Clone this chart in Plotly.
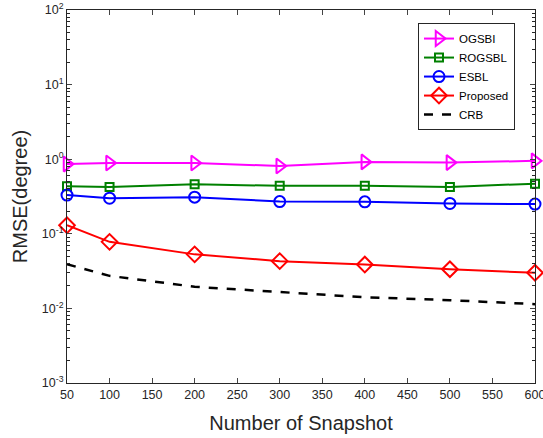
import plotly.graph_objects as go

snapshots = [50, 100, 200, 300, 400, 500, 600]
ogsbi = [0.86, 0.89, 0.89, 0.81, 0.92, 0.90, 0.95]
rogsbl = [0.435, 0.425, 0.46, 0.44, 0.44, 0.425, 0.47]
esbl = [0.33, 0.30, 0.31, 0.27, 0.268, 0.255, 0.25]
proposed = [0.13, 0.078, 0.053, 0.043, 0.0387, 0.0335, 0.030]
crb = [0.039, 0.0273, 0.0195, 0.0166, 0.0141, 0.0129, 0.0114]

xticks = [50, 100, 150, 200, 250, 300, 350, 400, 450, 500, 550, 600]
yticks = [1e-3, 1e-2, 1e-1, 1e0, 1e1, 1e2]
ytext = ["10<sup>-3</sup>", "10<sup>-2</sup>", "10<sup>-1</sup>", "10<sup>0</sup>", "10<sup>1</sup>", "10<sup>2</sup>"]
yminor = [m * 10.0 ** e for e in range(-3, 2) for m in range(2, 10)]

fig = go.Figure()
series = [
    ("OGSBI", ogsbi, "#FF00FF", "triangle-right-open", 13, "solid"),
    ("ROGSBL", rogsbl, "#008000", "square-open", 8, "solid"),
    ("ESBL", esbl, "#0000FF", "circle-open", 11, "solid"),
    ("Proposed", proposed, "#FF0000", "diamond-open", 12, "solid"),
]
for name, ys, col, sym, sz, dash in series:
    fig.add_trace(go.Scatter(x=snapshots, y=ys, name=name, mode="lines+markers",
                             line=dict(color=col, width=2),
                             marker=dict(symbol=sym, size=sz, color=col, line=dict(width=2, color=col)),
                             cliponaxis=False))
fig.add_trace(go.Scatter(x=snapshots, y=crb, name="CRB", mode="lines",
                         line=dict(color="black", width=2.5, dash="dash")))

axcol = "#262626"
fig.update_layout(
    width=543, height=438,
    margin=dict(l=67, r=8, t=10, b=55),
    paper_bgcolor="white", plot_bgcolor="white",
    font=dict(family="Liberation Sans, Arial", color=axcol),
    showlegend=True,
    legend=dict(x=0.75, y=0.965, xanchor="left", yanchor="top",
                bgcolor="white", bordercolor=axcol, borderwidth=1,
                font=dict(size=11.5, color="black"), tracegroupgap=0,
                itemwidth=30),
    xaxis=dict(range=[50, 600], tickvals=xticks, ticks="inside", ticklen=5,
               showline=True, linecolor=axcol, linewidth=1, mirror="ticks",
               showgrid=False, zeroline=False, tickfont=dict(size=12.5),
               automargin=False, ticklabeloverflow="allow",
               title=dict(text="Number of Snapshot", font=dict(size=20), standoff=14)),
    yaxis=dict(type="log", range=[-3, 2], tickvals=yticks, ticktext=ytext,
               ticks="inside", ticklen=5,
               minor=dict(tickvals=yminor, ticks="inside", ticklen=3, showgrid=False,
                          tickcolor=axcol),
               showline=True, linecolor=axcol, linewidth=1, mirror="ticks",
               showgrid=False, zeroline=False, tickfont=dict(size=12.5),
               automargin=False, ticklabeloverflow="allow",
               title=dict(text="RMSE(degree)", font=dict(size=20), standoff=8)),
)
fig.write_html("out.html", post_script="document.body.style.margin='0';",
               config={"displayModeBar": False})
